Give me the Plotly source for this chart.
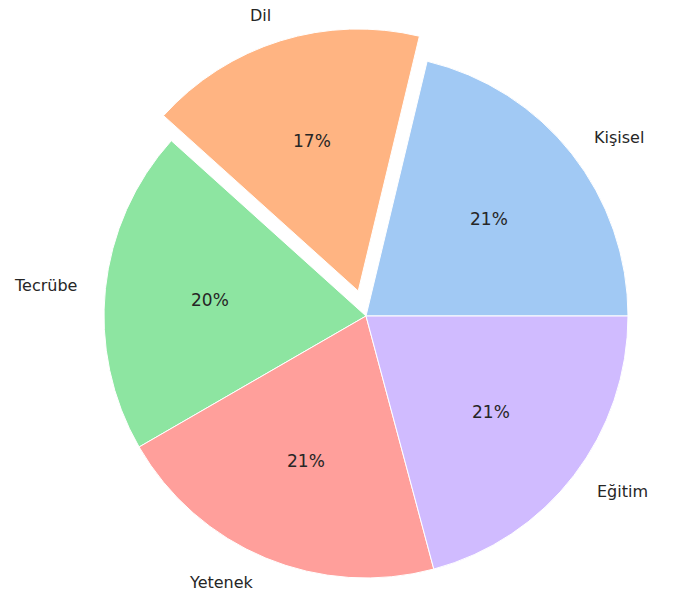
import math
import plotly.graph_objects as go

labels = ["Kişisel", "Dil", "Tecrübe", "Yetenek", "Eğitim"]
values = [102, 82, 96, 100, 100]
colors = ["#a1c9f4", "#ffb482", "#8de5a1", "#ff9f9b", "#d0bbff"]
explode = [0, 0.1, 0, 0, 0]

W, H = 673, 598
CX, CY, R = 366, 316, 262
TXT = "#262626"
FONT = "DejaVu Sans"

total = sum(values)
# plotly places the first slice clockwise of `rotation` even for counterclockwise
# direction; shift so the first slice starts at 3 o'clock going counterclockwise
ROT = 90 - 360.0 * values[0] / total

fig = go.Figure()

def dom(cx, cy):
    return dict(x=[(cx - R) / W, (cx + R) / W], y=[1 - (cy + R) / H, 1 - (cy - R) / H])

base_colors = [c if e == 0 else "rgba(0,0,0,0)" for c, e in zip(colors, explode)]
base_lines = ["white" if e == 0 else "rgba(0,0,0,0)" for e in explode]
fig.add_trace(go.Pie(labels=labels, values=values, sort=False, direction="counterclockwise",
                     rotation=ROT, textinfo="none", hoverinfo="label+percent",
                     marker=dict(colors=base_colors, line=dict(color=base_lines, width=1)),
                     domain=dom(CX, CY), showlegend=False))

annotations = []
start = 0.0
for i, (lab, v, e) in enumerate(zip(labels, values, explode)):
    ang = 360.0 * v / total
    mid = math.radians(start + ang / 2)
    ox = CX + e * R * math.cos(mid)
    oy = CY - e * R * math.sin(mid)
    if e > 0:
        cols = [c if j == i else "rgba(0,0,0,0)" for j, c in enumerate(colors)]
        lns = ["white" if j == i else "rgba(0,0,0,0)" for j in range(len(colors))]
        fig.add_trace(go.Pie(labels=labels, values=values, sort=False, direction="counterclockwise",
                             rotation=ROT, textinfo="none", hoverinfo="skip",
                             marker=dict(colors=cols, line=dict(color=lns, width=1)),
                             domain=dom(ox, oy), showlegend=False))
    lx = ox + 1.1 * R * math.cos(mid)
    ly = oy - 1.1 * R * math.sin(mid)
    annotations.append(dict(x=lx / W, y=1 - ly / H, xref="paper", yref="paper", text=lab,
                            showarrow=False, xanchor="left" if math.cos(mid) > 0 else "right",
                            yanchor="middle", font=dict(family=FONT, size=16, color=TXT)))
    px = ox + 0.6 * R * math.cos(mid)
    py = oy - 0.6 * R * math.sin(mid)
    annotations.append(dict(x=px / W, y=1 - py / H, xref="paper", yref="paper",
                            text=f"{100 * v / total:.0f}%", showarrow=False,
                            xanchor="center", yanchor="middle",
                            font=dict(family=FONT, size=17, color=TXT)))
    start += ang

fig.update_layout(width=W, height=H, margin=dict(l=0, r=0, t=0, b=0),
                  paper_bgcolor="white", plot_bgcolor="white", annotations=annotations)
fig.write_html("out.html", config={"displayModeBar": False},
               post_script="document.body.style.margin='0';")
